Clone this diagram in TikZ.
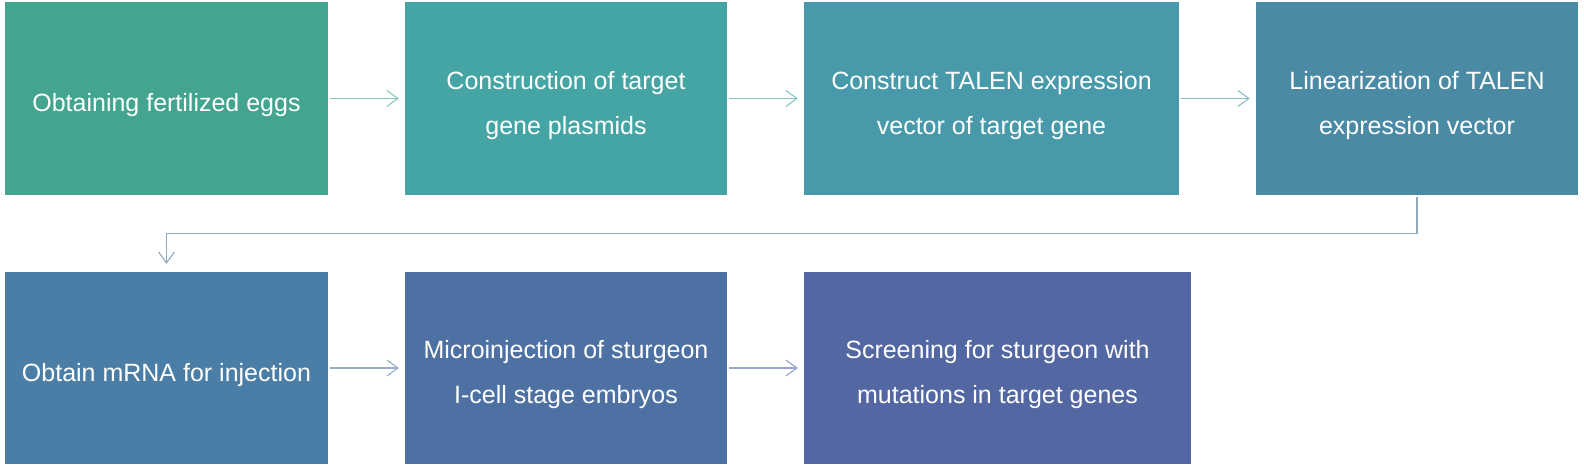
\documentclass[tikz,border=0pt]{standalone}
\usepackage{fontspec}
\setmainfont{Liberation Sans}
\usetikzlibrary{arrows.meta}
\definecolor{c1}{HTML}{43A48F}
\definecolor{c2}{HTML}{45A5A5}
\definecolor{c3}{HTML}{4899A9}
\definecolor{c4}{HTML}{4A8AA5}
\definecolor{c5}{HTML}{4A7EA6}
\definecolor{c6}{HTML}{4E71A4}
\definecolor{c7}{HTML}{5367A2}
\definecolor{a1}{HTML}{86C8BA}
\definecolor{a2}{HTML}{86C3C3}
\definecolor{a3}{HTML}{8ABBC9}
\definecolor{a4}{HTML}{8FA9C0}
\definecolor{a5}{HTML}{94AECB}
\definecolor{a6}{HTML}{98A5C9}
\tikzset{
  box/.style={rectangle, inner sep=0pt},
  lbl/.style={text=white, align=center, inner sep=0pt, yshift=-7pt,
    font=\fontsize{25}{45}\selectfont},
  arr/.style={line width=1.1pt, -{Straight Barb[length=11pt,width=16pt,line width=1.1pt]},
    shorten <=2pt, shorten >=6pt}
}
\begin{document}
\begin{tikzpicture}[x=1pt,y=-1pt]
\useasboundingbox (0,0) rectangle (1584,467);
\node[box, fill=c1, minimum width=323pt, minimum height=193pt,
  label={[lbl]center:Obtaining fertilized eggs}] (b1) at (166.5,98.5) {};
\node[box, fill=c2, minimum width=322pt, minimum height=193pt,
  label={[lbl]center:{Construction of target\\gene plasmids}}] (b2) at (566,98.5) {};
\node[box, fill=c3, minimum width=375pt, minimum height=193pt,
  label={[lbl]center:{Construct TALEN expression\\vector of target gene}}] (b3) at (991.5,98.5) {};
\node[box, fill=c4, minimum width=322pt, minimum height=193pt,
  label={[lbl]center:{Linearization of TALEN\\expression vector}}] (b4) at (1417,98.5) {};
\node[box, fill=c5, minimum width=323pt, minimum height=192pt,
  label={[lbl]center:Obtain mRNA for injection}] (b5) at (166.5,368) {};
\node[box, fill=c6, minimum width=322pt, minimum height=192pt,
  label={[lbl]center:{Microinjection of sturgeon\\I-cell stage embryos}}] (b6) at (566,368) {};
\node[box, fill=c7, minimum width=387pt, minimum height=192pt,
  label={[lbl]center:{Screening for sturgeon with\\mutations in target genes}}] (b7) at (997.5,368) {};
\draw[arr, a1] (b1.east) -- (b2.west);
\draw[arr, a2] (b2.east) -- (b3.west);
\draw[arr, a3] (b3.east) -- (b4.west);
\draw[arr, a4, shorten >=8pt] (b4.south) -- ++(0,38) -| (b5.north);
\draw[arr, a5] (b5.east) -- (b6.west);
\draw[arr, a6] (b6.east) -- (b7.west);
\end{tikzpicture}
\end{document}
